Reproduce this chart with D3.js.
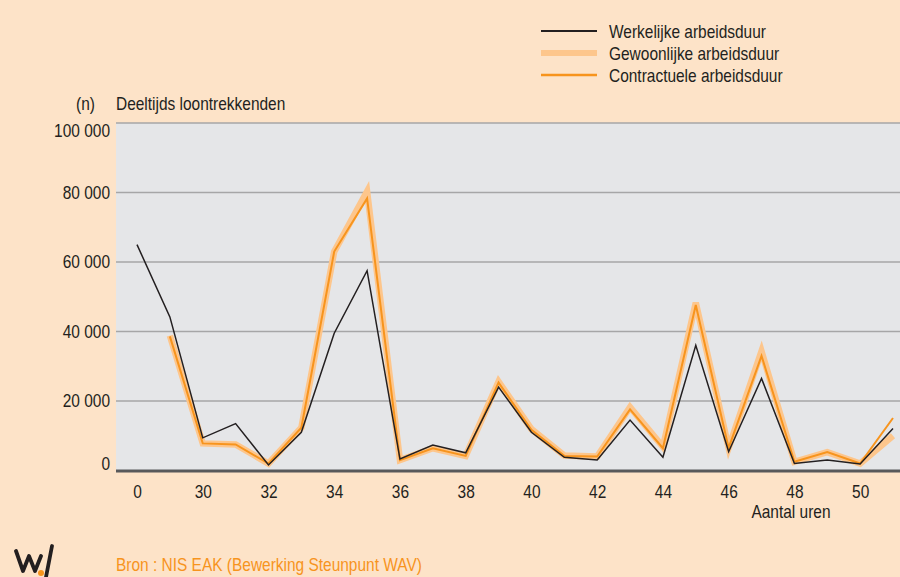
<!DOCTYPE html>
<html>
<head>
<meta charset="utf-8">
<script src="https://cdn.jsdelivr.net/npm/d3@7"></script>
<style>
  body { margin: 0; background: #fde3c8; }
  svg { display: block; }
  text { font-family: "Liberation Sans", Arial, sans-serif; }
</style>
</head>
<body>
<div id="chart"></div>
<script>
// uren: "0" eerst, daarna 29 t/m 51
const hours = ["0", "29", "30", "31", "32", "33", "34", "35", "36", "37", "38", "39", "40",
  "41", "42", "43", "44", "45", "46", "47", "48", "49", "50", "51"];
const tickLabels = ["0", "30", "32", "34", "36", "38", "40", "42", "44", "46", "48", "50"];
const yTicks = [0, 20000, 40000, 60000, 80000, 100000];

const werkelijk = [65000, 44200, 9400, 13500, 1600, 11000, 39500, 57500, 3300, 7300, 5100, 24000,
  11000, 3800, 3000, 14500, 3800, 36000, 5400, 26500, 2000, 3000, 1900, 12100];
const gewoonlijk = [null, 38800, 7800, 7500, 2000, 12300, 63000, 80300, 3000, 6400, 4200, 25600,
  11900, 4300, 4000, 18200, 6800, 48300, 6500, 34300, 2500, 5300, 2000, 10000];
const contractueel = [null, 38600, 7800, 7500, 2000, 12300, 63000, 78300, 3000, 6400, 4200, 25300,
  11700, 4200, 4000, 17600, 6400, 47600, 6500, 33000, 2500, 5300, 2000, 15100];

const series = [
  { name: "Gewoonlijke arbeidsduur", values: gewoonlijk, color: "#fdc68c", width: 6.5, legendWidth: 6 },
  { name: "Contractuele arbeidsduur", values: contractueel, color: "#f7941d", width: 2, legendWidth: 2.5 },
  { name: "Werkelijke arbeidsduur", values: werkelijk, color: "#231f20", width: 1.5, legendWidth: 2 }
];
const legendOrder = [series[2], series[0], series[1]];

const W = 900, H = 577;
const plot = { left: 116, top: 123, right: 900, bottom: 471 };
const SX = 0.86; // smal lettertype nabootsen

const svg = d3.select("#chart").append("svg")
  .attr("width", W)
  .attr("height", H);

svg.append("rect")
  .attr("width", W).attr("height", H)
  .attr("fill", "#fde3c8");

// tekst met horizontale compressie
function label(px, py, str, opts = {}) {
  return svg.append("text")
    .attr("transform", `translate(${px},${py}) scale(${SX},1)`)
    .attr("text-anchor", opts.anchor || "start")
    .attr("dy", opts.dy || null)
    .attr("font-size", 18)
    .attr("fill", opts.color || "#231f20")
    .text(str);
}

const x = d3.scalePoint().domain(hours).range([137, 893]);
const y = d3.scaleLinear().domain([0, 100000]).range([470.5, 123]);

// plotvlak
svg.append("rect")
  .attr("x", plot.left).attr("y", plot.top)
  .attr("width", plot.right - plot.left)
  .attr("height", plot.bottom - plot.top)
  .attr("fill", "#e5e6e8");

// rasterlijnen
svg.append("g")
  .selectAll("line")
  .data(yTicks.filter(d => d > 0))
  .join("line")
  .attr("x1", plot.left).attr("x2", plot.right)
  .attr("y1", d => y(d)).attr("y2", d => y(d))
  .attr("stroke", "#a6a6a7")
  .attr("stroke-width", 1.6);

// y-as labels
const fmt = d => d3.format(",")(d).replace(/,/g, " ");
yTicks.forEach(d => {
  const off = d === 100000 ? 8 : d === 0 ? -7 : 0;
  label(110, y(d) + off, fmt(d), { anchor: "end", dy: "0.35em" });
});

// x-as
const xAxis = svg.append("g")
  .attr("transform", `translate(0,${plot.bottom})`)
  .call(d3.axisBottom(x)
    .tickValues(tickLabels)
    .tickSize(0)
    .tickPadding(14));
xAxis.select(".domain").remove();
xAxis.selectAll("text")
  .attr("font-size", 18)
  .attr("font-family", "'Liberation Sans', Arial, sans-serif")
  .attr("fill", "#231f20")
  .attr("transform", `scale(${SX},1)`);

// reeksen
const line = d3.line()
  .defined(d => d != null)
  .x((d, i) => x(hours[i]))
  .y(d => y(d));

svg.append("g")
  .selectAll("path")
  .data(series)
  .join("path")
  .attr("d", d => line(d.values))
  .attr("fill", "none")
  .attr("stroke", d => d.color)
  .attr("stroke-width", d => d.width)
  .attr("stroke-linejoin", "miter");

// nul-lijn
svg.append("line")
  .attr("x1", plot.left).attr("x2", plot.right)
  .attr("y1", plot.bottom).attr("y2", plot.bottom)
  .attr("stroke", "#58595b")
  .attr("stroke-width", 3);

// titels
label(95, 110, "(n)", { anchor: "end" });
label(116, 110, "Deeltijds loontrekkenden");
label(791, 518, "Aantal uren", { anchor: "middle" });

// legende
legendOrder.forEach((s, i) => {
  const ly = 31 + i * 22;
  svg.append("line")
    .attr("x1", 541).attr("x2", 597)
    .attr("y1", ly).attr("y2", ly)
    .attr("stroke", s.color)
    .attr("stroke-width", s.legendWidth);
  label(609, ly + 6.5, s.name);
});

// bron
label(116, 571, "Bron : NIS EAK (Bewerking Steunpunt WAV)", { color: "#f7941d" });

// logo
const logo = svg.append("g");
logo.append("path")
  .attr("d", "M16,551 L23,571 L29,556 L35,571 L41,556 M46,577 L52,546")
  .attr("fill", "none")
  .attr("stroke", "#231f20")
  .attr("stroke-width", 3.8)
  .attr("stroke-linecap", "round")
  .attr("stroke-linejoin", "round");
logo.append("circle")
  .attr("cx", 41).attr("cy", 573).attr("r", 3)
  .attr("fill", "#f7941d");
</script>
</body>
</html>
